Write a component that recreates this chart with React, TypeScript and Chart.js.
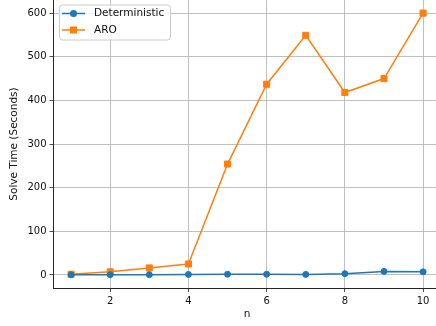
import React, { useEffect, useRef } from "react";
import { Chart, registerables } from "chart.js";

Chart.register(...registerables);

const nValues = [1, 2, 3, 4, 5, 6, 7, 8, 9, 10];
const deterministic = [0.3, 0.5, 0.6, 1.0, 1.5, 1.5, 1.2, 2.8, 8, 7];
const aro = [1.5, 7, 16, 25, 254, 437, 549, 418, 450, 600];
const xTicks = [2, 4, 6, 8, 10];
const yTicks = [0, 100, 200, 300, 400, 500, 600];
const seriesNames = ["Deterministic", "ARO"];
const xLabel = "n";
const yLabel = "Solve Time (Seconds)";

const BLUE = "#1f77b4";
const ORANGE = "#ff7f0e";
const FONT = "DejaVu Sans";
const TOP_SHIFT = 8; // canvas is shifted up by this many px beyond the -1 crop

const legendPlugin = {
  id: "mplLegend",
  afterDraw(chart: any) {
    const ctx = chart.ctx;
    ctx.save();
    ctx.translate(0, TOP_SHIFT + 1);
    const x0 = 59.5, y0 = 5, w = 111, h = 35, r = 3;
    ctx.beginPath();
    ctx.moveTo(x0 + r, y0);
    ctx.arcTo(x0 + w, y0, x0 + w, y0 + h, r);
    ctx.arcTo(x0 + w, y0 + h, x0, y0 + h, r);
    ctx.arcTo(x0, y0 + h, x0, y0, r);
    ctx.arcTo(x0, y0, x0 + w, y0, r);
    ctx.closePath();
    ctx.fillStyle = "rgba(255,255,255,0.8)";
    ctx.fill();
    ctx.strokeStyle = "#cccccc";
    ctx.lineWidth = 1;
    ctx.stroke();
    const rows = [
      { y: 13.5, color: BLUE, shape: "circle", label: seriesNames[0] },
      { y: 30, color: ORANGE, shape: "rect", label: seriesNames[1] },
    ];
    for (const row of rows) {
      ctx.strokeStyle = row.color;
      ctx.lineWidth = 1.5;
      ctx.beginPath();
      ctx.moveTo(62, row.y);
      ctx.lineTo(85, row.y);
      ctx.stroke();
      ctx.fillStyle = row.color;
      ctx.beginPath();
      if (row.shape === "circle") {
        ctx.arc(73.5, row.y, 3.5, 0, Math.PI * 2);
      } else {
        ctx.rect(70, row.y - 3.5, 7, 7);
      }
      ctx.fill();
      ctx.fillStyle = "#111";
      ctx.font = `10.5px "${FONT}"`;
      ctx.textBaseline = "middle";
      ctx.textAlign = "left";
      ctx.fillText(row.label, 94, row.y);
    }
    ctx.restore();
  },
};

export default function App() {
  const ref = useRef<HTMLCanvasElement>(null);
  useEffect(() => {
    if (!ref.current) return;
    const chart = new Chart(ref.current, {
      type: "line",
      data: {
        datasets: [
          {
            label: seriesNames[0],
            data: nValues.map((x, i) => ({ x, y: deterministic[i] })),
            borderColor: BLUE,
            backgroundColor: BLUE,
            borderWidth: 1.5,
            pointStyle: "circle",
            pointRadius: 3,
            pointBorderWidth: 1,
            pointBorderColor: BLUE,
            pointBackgroundColor: BLUE,
          },
          {
            label: seriesNames[1],
            data: nValues.map((x, i) => ({ x, y: aro[i] })),
            borderColor: ORANGE,
            backgroundColor: ORANGE,
            borderWidth: 1.5,
            pointStyle: "rect",
            pointRadius: 4.3,
            pointBorderWidth: 1,
            pointBorderColor: ORANGE,
            pointBackgroundColor: ORANGE,
          },
        ],
      },
      options: {
        animation: false,
        responsive: false,
        devicePixelRatio: 1,
        layout: { padding: 0 },
        plugins: { legend: { display: false }, tooltip: { enabled: false } },
        scales: {
          x: {
            type: "linear",
            min: 0.55,
            max: 10.45,
            afterBuildTicks: (s: any) => {
              s.ticks = xTicks.map((v) => ({ value: v }));
            },
            afterFit: (s: any) => {
              s.height = 38;
            },
            grid: { color: "#b0b0b0", lineWidth: 0.8, tickLength: 4, tickColor: "#222" },
            border: { display: true, color: "#222", width: 1 },
            ticks: {
              color: "#111",
              font: { family: FONT, size: 10 },
              padding: 3,
              maxRotation: 0,
              callback: (v: any) => String(v),
            },
            title: {
              display: true,
              text: xLabel,
              color: "#111",
              font: { family: FONT, size: 10.5 },
              padding: { top: 0, bottom: 5 },
            },
          },
          y: {
            type: "linear",
            min: -30,
            max: 630,
            afterBuildTicks: (s: any) => {
              s.ticks = yTicks.map((v) => ({ value: v }));
            },
            afterFit: (s: any) => {
              s.width = 53.5;
            },
            grid: { color: "#b0b0b0", lineWidth: 0.8, tickLength: 4, tickColor: "#222" },
            border: { display: true, color: "#222", width: 1 },
            ticks: {
              color: "#111",
              font: { family: FONT, size: 10 },
              padding: 3,
              callback: (v: any) => String(v),
            },
            title: {
              display: true,
              text: yLabel,
              color: "#111",
              font: { family: FONT, size: 10.5 },
              padding: { top: 8, bottom: 0 },
            },
          },
        },
      },
      plugins: [legendPlugin],
    });
    return () => chart.destroy();
  }, []);
  return (
    <div
      style={{
        position: "fixed",
        left: 0,
        top: 0,
        width: 436,
        height: 326,
        overflow: "hidden",
        background: "#fff",
      }}
    >
      <canvas
        ref={ref}
        width={446}
        height={335}
        style={{ position: "absolute", left: 0, top: -(TOP_SHIFT + 1), display: "block" }}
      />
    </div>
  );
}
